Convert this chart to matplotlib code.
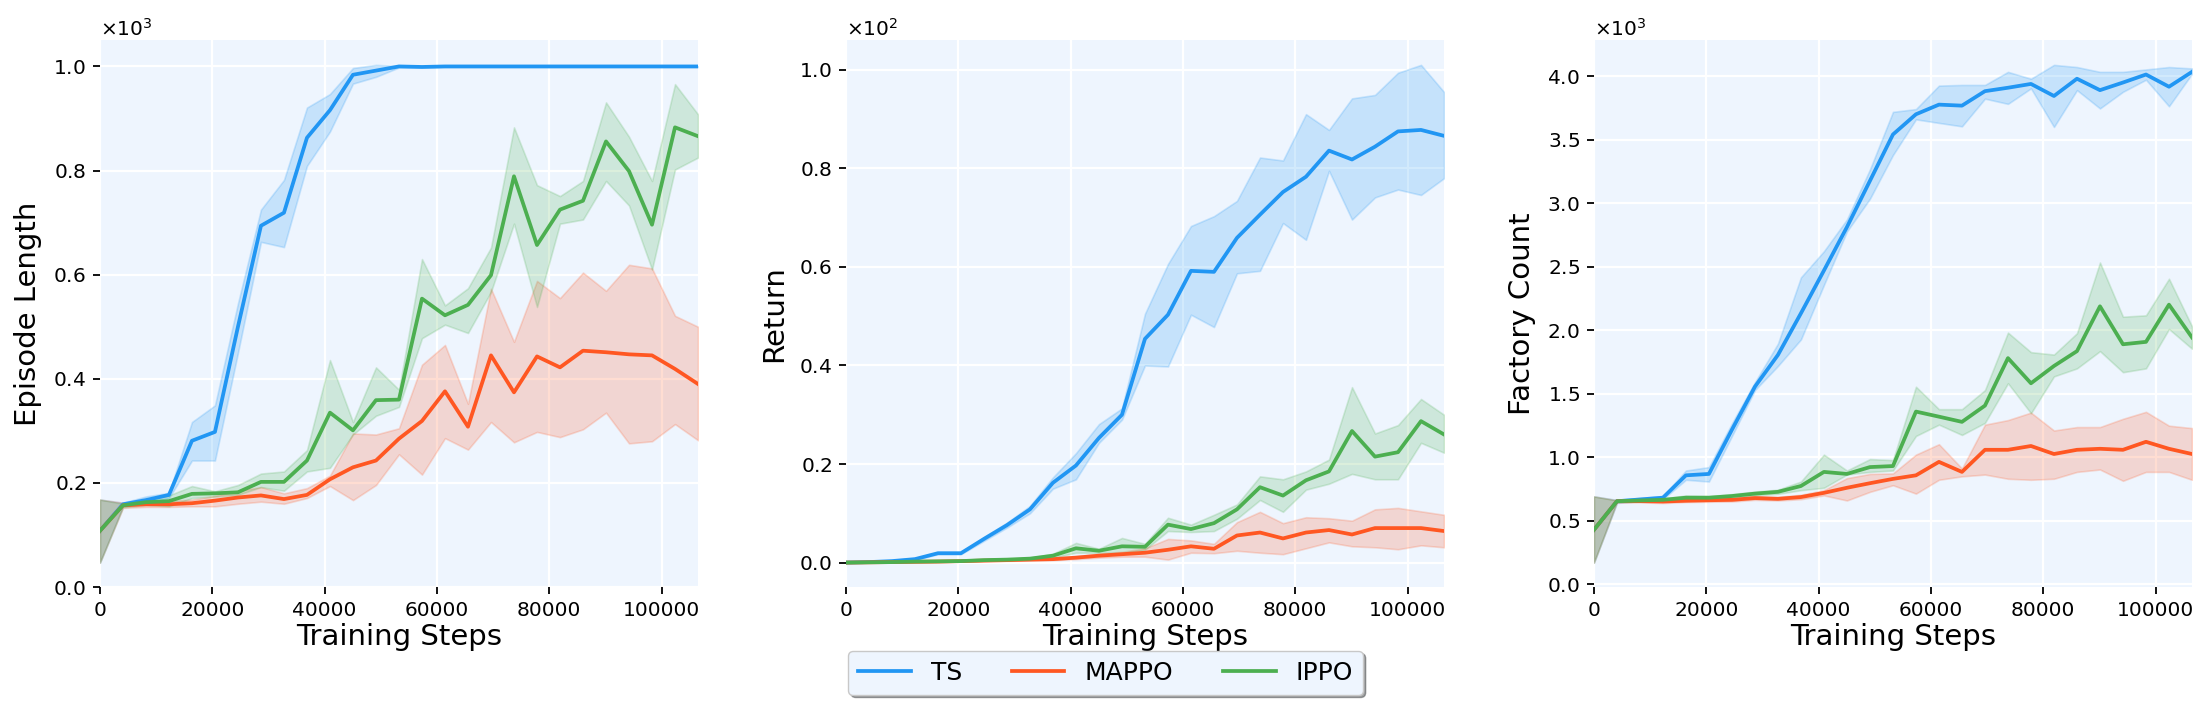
import numpy as np
import matplotlib
matplotlib.use("Agg")
import matplotlib.pyplot as plt
from matplotlib.ticker import ScalarFormatter, MultipleLocator, FixedLocator

# ---------------- data ----------------
steps = [i * 4096 for i in range(27)]
algos = ["TS", "MAPPO", "IPPO"]
colors = {"TS": "#2196F3", "MAPPO": "#FF5722", "IPPO": "#4CAF50"}

# Episode Length
len_ts_mean = [108,159,167,177,281,298,500,694,719,863,916,984,992,1000,999,1000,1000,1000,1000,1000,1000,1000,1000,1000,1000,1000,1000]
len_ts_lo   = [47,155,161,171,243,243,450,663,653,809,875,967,980,998,998,999,999,999,999,999,999,999,999,999,999,999,999]
len_ts_hi   = [168,162,174,181,317,349,545,725,782,921,947,997,1003,1001,1000,1000,1000,1000,1000,1000,1000,1000,1000,1000,1000,1000,1000]
len_mappo_mean = [108,157,159,159,161,166,172,176,169,177,207,230,243,285,319,376,308,445,374,443,422,454,451,447,445,419,390]
len_mappo_lo   = [47,152,154,154,155,155,160,164,160,171,194,167,196,255,216,286,264,317,278,298,288,303,335,276,280,313,282]
len_mappo_hi   = [168,162,164,165,168,175,185,192,180,190,214,295,293,305,427,465,352,573,471,588,555,604,569,619,612,521,500]
len_ippo_mean = [108,157,163,165,179,180,182,202,202,243,335,301,359,360,554,522,542,599,789,657,725,742,856,799,696,883,866]
len_ippo_lo   = [47,153,158,155,171,174,177,192,185,222,229,293,329,346,478,504,488,567,698,538,698,706,780,733,610,802,825]
len_ippo_hi   = [168,160,168,176,194,184,196,218,222,263,436,317,422,379,630,541,574,652,883,772,751,780,931,865,780,966,908]

# Return
ret_ts_mean = [0,0.1,0.3,0.7,1.9,1.9,4.8,7.6,10.8,16.2,19.7,25.3,30.0,45.4,50.3,59.2,59.0,65.9,70.6,75.2,78.3,83.6,81.8,84.4,87.5,87.8,86.6]
ret_ts_lo   = [0,0.0,0.1,0.5,1.7,1.7,4.4,7.1,10.0,15.0,16.9,24.3,29.0,40.0,39.8,50.3,47.8,58.7,59.2,68.9,65.5,79.5,69.6,74.1,75.7,74.6,78.0]
ret_ts_hi   = [0,0.2,0.5,0.9,2.1,2.1,5.2,8.1,11.5,17.3,22.2,28.1,31.3,50.5,60.6,68.3,70.3,73.4,82.2,81.6,91.0,87.8,94.2,94.9,99.4,101.0,95.5]
ret_mappo_mean = [0,0.05,0.1,0.15,0.2,0.3,0.4,0.5,0.6,0.7,1.0,1.4,1.7,2.0,2.6,3.3,2.8,5.5,6.1,4.9,6.1,6.6,5.7,7.0,7.0,7.0,6.4]
ret_mappo_lo   = [0,0,0.05,0.1,0.15,0.2,0.3,0.35,0.45,0.5,0.7,1.0,1.2,1.2,0.6,2.0,1.9,2.4,2.0,1.7,2.9,4.1,3.3,3.1,2.7,3.5,3.1]
ret_mappo_hi   = [0,0.1,0.15,0.2,0.25,0.4,0.5,0.65,0.75,0.9,1.3,1.8,2.2,2.9,4.8,4.5,3.8,8.2,10.3,8.0,9.2,9.0,8.5,10.8,11.1,10.4,9.7]
ret_ippo_mean = [0,0.05,0.1,0.2,0.25,0.3,0.5,0.6,0.8,1.4,2.9,2.4,3.3,3.2,7.7,6.8,8.0,10.8,15.3,13.6,16.7,18.5,26.7,21.5,22.4,28.7,26.0]
ret_ippo_lo   = [0,0,0.05,0.1,0.15,0.2,0.35,0.45,0.6,1.0,2.0,2.0,1.9,2.6,6.4,6.2,6.4,8.9,12.7,10.3,14.8,16.0,18.0,16.9,16.9,24.3,22.3]
ret_ippo_hi   = [0,0.1,0.15,0.3,0.35,0.4,0.65,0.8,1.0,1.8,4.0,2.8,5.0,3.8,9.1,7.7,9.7,11.8,17.5,16.9,18.5,20.9,35.6,26.2,27.9,33.2,30.0]

# Factory Count
fac_ts_mean = [429,654,668,682,858,869,1217,1556,1806,2134,2471,2813,3177,3542,3701,3777,3769,3883,3910,3940,3845,3981,3891,3951,4014,3918,4035]
fac_ts_lo   = [171,640,655,670,823,809,1167,1529,1719,1928,2357,2778,3036,3380,3661,3633,3606,3824,3783,3905,3601,3891,3747,3878,3973,3764,4020]
fac_ts_hi   = [692,665,680,695,896,923,1267,1591,1895,2417,2623,2873,3267,3720,3742,3927,3932,3932,4035,3981,4090,4073,4035,4035,4054,4073,4062]
fac_mappo_mean = [429,654,655,652,658,662,665,679,673,687,720,760,796,830,858,964,885,1059,1059,1089,1026,1059,1067,1059,1122,1067,1026]
fac_mappo_lo   = [171,645,645,640,648,650,652,665,660,670,700,660,728,780,714,823,850,864,831,823,831,885,904,815,885,885,823]
fac_mappo_hi   = [692,662,665,662,668,675,680,695,688,705,741,836,869,873,1021,1103,912,1257,1293,1352,1211,1238,1238,1303,1358,1249,1230]
fac_ippo_mean = [429,654,660,665,682,682,695,714,728,774,885,869,923,931,1360,1320,1279,1407,1781,1583,1719,1836,2189,1890,1909,2202,1944]
fac_ippo_lo   = [171,648,652,655,668,670,682,700,712,741,760,864,885,896,1168,1257,1176,1271,1583,1347,1637,1700,1836,1670,1700,2010,1855]
fac_ippo_hi   = [692,660,668,675,700,695,710,730,745,809,1021,896,986,978,1556,1379,1379,1529,1982,1828,1809,1977,2534,2107,2118,2406,2031]

panels = [
    ("Episode Length", {
        "TS": (len_ts_mean, len_ts_lo, len_ts_hi),
        "MAPPO": (len_mappo_mean, len_mappo_lo, len_mappo_hi),
        "IPPO": (len_ippo_mean, len_ippo_lo, len_ippo_hi)}, 200),
    ("Return", {
        "TS": (ret_ts_mean, ret_ts_lo, ret_ts_hi),
        "MAPPO": (ret_mappo_mean, ret_mappo_lo, ret_mappo_hi),
        "IPPO": (ret_ippo_mean, ret_ippo_lo, ret_ippo_hi)}, 20),
    ("Factory Count", {
        "TS": (fac_ts_mean, fac_ts_lo, fac_ts_hi),
        "MAPPO": (fac_mappo_mean, fac_mappo_lo, fac_mappo_hi),
        "IPPO": (fac_ippo_mean, fac_ippo_lo, fac_ippo_hi)}, 500),
]
xticks = [0, 20000, 40000, 60000, 80000, 100000]

# ---------------- figure ----------------
plt.rcParams["font.family"] = ["DejaVu Sans"]
fig = plt.figure(figsize=(22.11, 7.18), dpi=100)
bg = "#EEF5FE"
lefts = [0.0452, 0.3826, 0.7209]
W, B, H = 0.2705, 0.1818, 0.7625

handles = []
for (ylabel, series, ystep), left in zip(panels, lefts):
    ax = fig.add_axes([left, B, W, H])
    ax.set_facecolor(bg)
    for name in algos:
        m, lo, hi = series[name]
        c = colors[name]
        ax.fill_between(steps, lo, hi, color=c, alpha=0.2, linewidth=1.2)
        ln, = ax.plot(steps, m, color=c, lw=2.7, label=name)
        if left == lefts[0]:
            handles.append(ln)
    ax.set_xlim(0, steps[-1])
    ax.xaxis.set_major_locator(FixedLocator(xticks))
    ax.yaxis.set_major_locator(MultipleLocator(ystep))
    fmt = ScalarFormatter(useMathText=True)
    fmt.set_powerlimits((0, 0))
    ax.yaxis.set_major_formatter(fmt)
    ax.yaxis.get_offset_text().set_fontsize(14.5)
    ax.grid(True, color="white", linewidth=1.6)
    ax.set_axisbelow(True)
    for s in ax.spines.values():
        s.set_visible(False)
    ax.tick_params(axis="both", labelsize=14.5, length=5, width=1.3, pad=5, color="black")
    ax.set_xlabel("Training Steps", fontsize=21, labelpad=2)
    ax.set_ylabel(ylabel, fontsize=21, labelpad=8)

leg = fig.legend(handles=handles, labels=algos, loc="lower center",
                 bbox_to_anchor=(0.5, 0.015), ncol=3, fontsize=18,
                 frameon=True, fancybox=True, shadow=True,
                 handlelength=2.1, columnspacing=2.0, handletextpad=0.8)
leg.get_frame().set_facecolor(bg)
leg.get_frame().set_edgecolor("#c8c8c8")
leg.get_frame().set_alpha(1.0)

fig.savefig("out.png", dpi=100)
